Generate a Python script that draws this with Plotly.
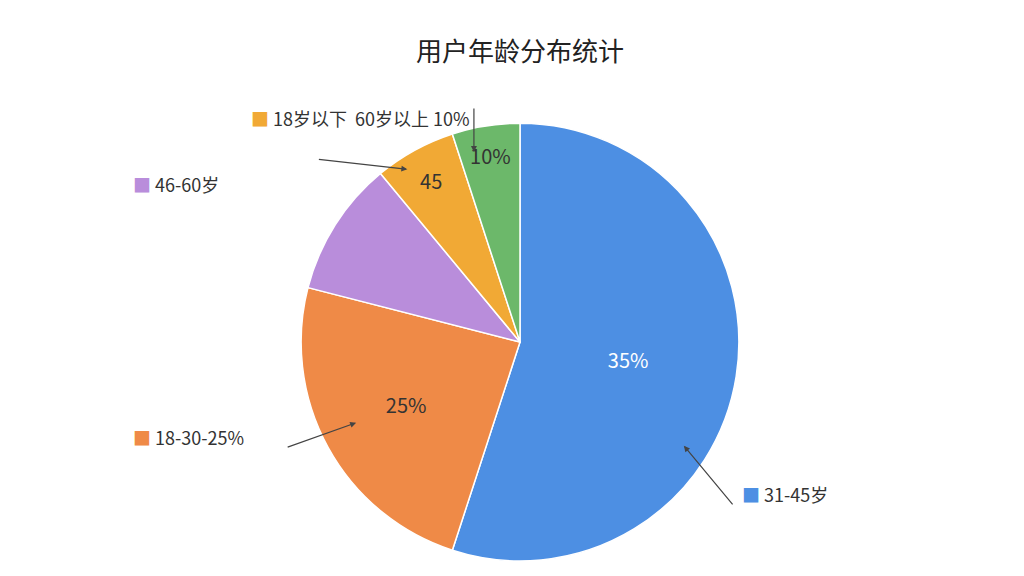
import plotly.graph_objects as go

categories = ["31-45岁", "18-30岁", "46-60岁", "18岁以下", "60岁以上"]
values = [55, 24, 10, 6, 5]
slice_text = ["35%", "25%", "", "45", "10%"]
colors = ["#4d8fe3", "#ef8a47", "#b98ddb", "#f1a935", "#6cb86a"]

fig = go.Figure(go.Pie(
    labels=categories, values=values, text=slice_text, textinfo="text",
    sort=False, direction="clockwise", rotation=0,
    marker=dict(colors=colors, line=dict(color="white", width=1.5)),
    textfont=dict(size=20, color=["white", "#333", "#333", "#333", "#333"]),
    insidetextorientation="horizontal", showlegend=False,
    domain=dict(x=[0.25, 0.75], y=[0.04, 0.8]),
))

font = "Noto Sans CJK SC"
ann = [
    dict(x=0.715, y=0.13, text="<span style='color:#4d8fe3'>■</span> 31-45岁", showarrow=False, xanchor="left"),
    dict(x=0.12, y=0.23, text="<span style='color:#ef8a47'>■</span> 18-30-25%", showarrow=False, xanchor="left"),
    dict(x=0.12, y=0.72, text="<span style='color:#b98ddb'>■</span> 46-60岁", showarrow=False, xanchor="left"),
    dict(x=0.235, y=0.835, text="<span style='color:#f1a935'>■</span> 18岁以下  60岁以上 10%", showarrow=False, xanchor="left"),
]
annotations = [dict(xref="paper", yref="paper", font=dict(size=18, color="#333", family=font), **a) for a in ann]
arrows = [
    dict(x=0.66, y=0.24, ax=50, ay=60),
    dict(x=0.34, y=0.28, ax=-70, ay=25),
    dict(x=0.39, y=0.72, ax=-90, ay=-10),
    dict(x=0.455, y=0.75, ax=0, ay=-45),
]
for a in arrows:
    annotations.append(dict(xref="paper", yref="paper", text="", showarrow=True,
                            arrowhead=2, arrowwidth=1.2, arrowcolor="#444", **a))

fig.update_layout(
    width=1024, height=576, paper_bgcolor="white",
    margin=dict(l=0, r=0, t=0, b=0),
    title=dict(text="用户年龄分布统计", x=0.5, y=0.94, xanchor="center",
               font=dict(size=26, color="#222", family=font)),
    font=dict(family=font),
    annotations=annotations,
)
fig.write_html("out.html")
